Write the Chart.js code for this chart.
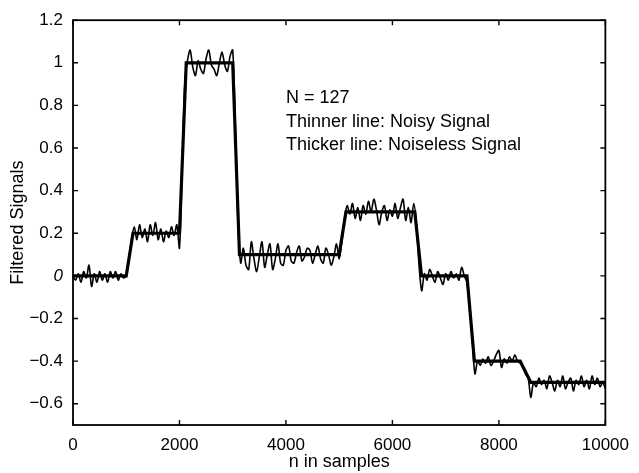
<!DOCTYPE html>
<html>
<head>
    <title>Filtered Signals</title>
    <script src="https://cdn.jsdelivr.net/npm/chart.js@4.4.0/dist/chart.umd.min.js"></script>
    <style>
        html, body {
            margin: 0;
            padding: 0;
            background: #fff;
        }
    </style>
</head>
<body>
    <canvas id="filterChart" width="639" height="473"></canvas>

    <script>
        // noiseless signal after the N = 127 filter (breakpoints of the steps)
        const cleanN = [0, 1000, 1127, 2000, 2127, 3000, 3127, 5000, 5127, 6420, 6547, 7400, 7540, 8400, 8600, 10000];
        const cleanY = [0, 0, 0.2, 0.2, 1, 1, 0.1, 0.1, 0.3, 0.3, 0, 0, -0.4, -0.4, -0.5, -0.5];

        // noisy signal after the same filter, one reading every 50 samples
        const noisyStep = 50;
        const noisyY = [
            0.00, -0.02, 0.01, -0.03, 0.02, -0.01, 0.05, -0.05, 0.01, -0.03, 0.02, -0.02, 0.01, -0.03, 0.02, -0.01, 0.02, -0.02, 0.01, -0.01,
            0.00, 0.08, 0.17, 0.23, 0.17, 0.24, 0.18, 0.22, 0.16, 0.24, 0.19, 0.25, 0.17, 0.22, 0.16, 0.21, 0.18, 0.23, 0.19, 0.24,
            0.13, 0.50, 0.90, 1.01, 1.06, 0.98, 0.94, 1.01, 0.97, 0.95, 1.02, 1.06, 0.99, 0.97, 0.94, 1.00, 1.05, 0.99, 0.96, 1.03,
            1.06, 0.70, 0.25, 0.06, 0.13, 0.05, 0.03, 0.16, 0.08, 0.02, 0.09, 0.16, 0.04, 0.10, 0.15, 0.03, 0.08, 0.15, 0.06, 0.05,
            0.12, 0.14, 0.07, 0.06, 0.11, 0.14, 0.07, 0.09, 0.13, 0.12, 0.06, 0.10, 0.14, 0.08, 0.06, 0.13, 0.10, 0.05, 0.09, 0.15,
            0.08, 0.16, 0.27, 0.33, 0.29, 0.34, 0.27, 0.32, 0.26, 0.33, 0.29, 0.35, 0.30, 0.36, 0.31, 0.24, 0.30, 0.33, 0.26, 0.31,
            0.28, 0.34, 0.27, 0.32, 0.36, 0.26, 0.32, 0.25, 0.34, 0.25, 0.05, -0.07, 0.01, -0.02, 0.03, 0.00, -0.03, 0.02, -0.01, -0.04,
            0.01, -0.02, 0.02, -0.01, 0.01, -0.02, 0.04, 0.00, -0.03, -0.15, -0.30, -0.46, -0.40, -0.42, -0.39, -0.41, -0.38, -0.42, -0.40, -0.37,
            -0.35, -0.43, -0.39, -0.41, -0.38, -0.40, -0.37, -0.40, -0.41, -0.43, -0.46, -0.48, -0.57, -0.50, -0.52, -0.48, -0.51, -0.49, -0.53, -0.47,
            -0.50, -0.54, -0.49, -0.52, -0.47, -0.53, -0.50, -0.48, -0.54, -0.49, -0.51, -0.47, -0.52, -0.49, -0.53, -0.47, -0.51, -0.48, -0.52, -0.50,
            -0.53
        ];

        const xTicks = [0, 2000, 4000, 6000, 8000, 10000];
        const yTicks = [-0.6, -0.4, -0.2, 0, 0.2, 0.4, 0.6, 0.8, 1, 1.2];

        const notes = ['N = 127', 'Thinner line: Noisy Signal', 'Thicker line: Noiseless Signal'];

        const FONT = '"Liberation Sans", Arial, sans-serif';

        // box round the plot with MATLAB-style inward ticks, plus the text block
        const framePlugin = {
            id: 'frame',
            afterDatasetsDraw(chart) {
                const {ctx, chartArea: a, scales: {x, y}} = chart;
                ctx.save();
                ctx.strokeStyle = '#000';
                ctx.lineWidth = 1.8;
                ctx.strokeRect(a.left, a.top, a.right - a.left, a.bottom - a.top);

                ctx.lineWidth = 1.4;
                ctx.beginPath();
                xTicks.forEach(v => {
                    const px = x.getPixelForValue(v);
                    ctx.moveTo(px, a.bottom); ctx.lineTo(px, a.bottom - 5);
                    ctx.moveTo(px, a.top); ctx.lineTo(px, a.top + 5);
                });
                yTicks.forEach(v => {
                    const py = y.getPixelForValue(v);
                    ctx.moveTo(a.left, py); ctx.lineTo(a.left + 5, py);
                    ctx.moveTo(a.right, py); ctx.lineTo(a.right - 5, py);
                });
                ctx.stroke();

                ctx.fillStyle = '#000';
                ctx.font = '18px ' + FONT;
                ctx.textAlign = 'left';
                ctx.textBaseline = 'alphabetic';
                const left = x.getPixelForValue(4000);
                const rows = [0.81, 0.70, 0.59];
                notes.forEach((t, i) => ctx.fillText(t, left, y.getPixelForValue(rows[i])));
                ctx.restore();
            }
        };

        function fmtY(v) {
            const r = Math.round(v * 10) / 10;
            return r < 0 ? '\u2212' + String(-r) : String(r);
        }

        const ctx = document.getElementById('filterChart').getContext('2d');
        new Chart(ctx, {
            type: 'line',
            data: {
                datasets: [
                    {
                        label: 'Noisy Signal',
                        data: noisyY.map((v, i) => ({x: i * noisyStep, y: v})),
                        borderColor: '#000',
                        borderWidth: 1.6,
                        borderJoinStyle: 'round',
                        pointRadius: 0,
                        tension: 0.3
                    },
                    {
                        label: 'Noiseless Signal',
                        data: cleanN.map((n, i) => ({x: n, y: cleanY[i]})),
                        borderColor: '#000',
                        borderWidth: 3.2,
                        pointRadius: 0,
                        tension: 0
                    }
                ]
            },
            options: {
                responsive: false,
                animation: false,
                layout: {
                    padding: {left: 0, right: 30, top: 16, bottom: 0}
                },
                plugins: {
                    legend: {display: false},
                    tooltip: {enabled: false}
                },
                scales: {
                    x: {
                        type: 'linear',
                        min: 0,
                        max: 10000,
                        grid: {display: false, drawTicks: false},
                        border: {display: false},
                        afterBuildTicks: scale => {
                            scale.ticks = xTicks.map(v => ({value: v}));
                        },
                        afterFit: scale => { scale.height = 48; },
                        ticks: {
                            padding: 10,
                            color: '#000',
                            maxRotation: 0,
                            font: {family: FONT, size: 17},
                            callback: v => String(v)
                        },
                        title: {
                            display: true,
                            text: 'n in samples',
                            color: '#000',
                            font: {family: FONT, size: 18},
                            padding: {top: 0, bottom: 0}
                        }
                    },
                    y: {
                        type: 'linear',
                        min: -0.7,
                        max: 1.2,
                        grid: {display: false, drawTicks: false},
                        border: {display: false},
                        afterBuildTicks: scale => {
                            scale.ticks = yTicks.map(v => ({value: v}));
                        },
                        afterFit: scale => { scale.width = 73; },
                        ticks: {
                            padding: 10,
                            color: '#000',
                            font: c => ({
                                family: FONT,
                                size: 17,
                                style: c.tick && c.tick.value === 0 ? 'italic' : 'normal'
                            }),
                            callback: v => fmtY(v)
                        },
                        title: {
                            display: true,
                            text: 'Filtered Signals',
                            color: '#000',
                            font: {family: FONT, size: 18},
                            padding: {top: 7, bottom: 0}
                        }
                    }
                }
            },
            plugins: [framePlugin]
        });
    </script>
</body>
</html>
